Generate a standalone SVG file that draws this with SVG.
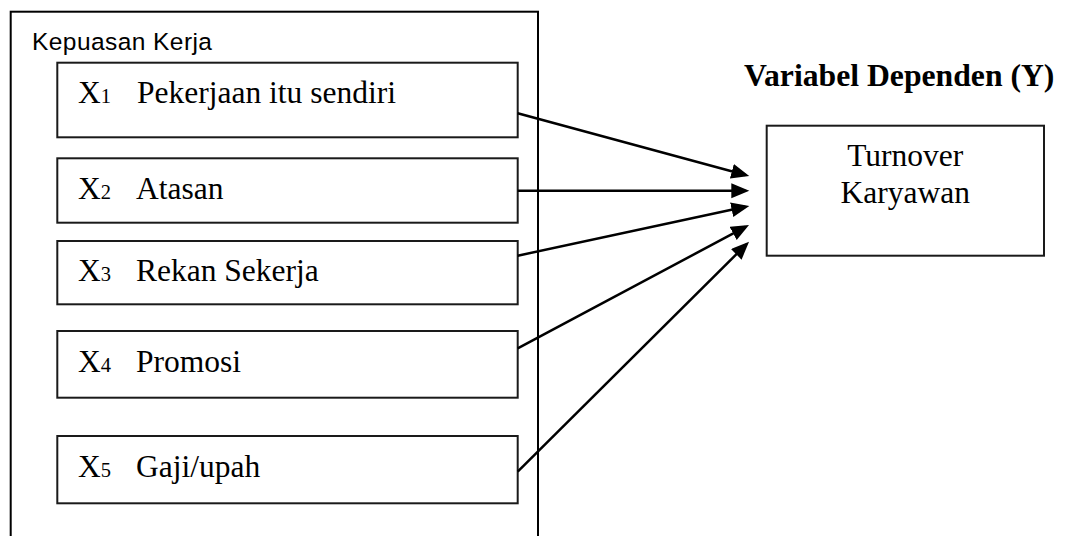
<svg xmlns="http://www.w3.org/2000/svg" width="1066" height="536" viewBox="0 0 1066 536">
  <style>
    .box { fill: #ffffff; stroke: #1a1a1a; stroke-width: 2; }
    .outer { fill: #ffffff; stroke: #000000; stroke-width: 2; }
    .lbl { font-family: "Liberation Serif", "Times New Roman", serif; font-size: 31.5px; fill: #000000; }
    .sub { font-size: 20.5px; }
    .title { font-family: "Liberation Serif", "Times New Roman", serif; font-size: 31.7px; font-weight: bold; fill: #000000; }
    .group { font-family: "Liberation Sans", Arial, sans-serif; font-size: 24.5px; fill: #000000; }
    .conn { fill: none; stroke: #000000; stroke-width: 2.5; marker-end: url(#arrow); }
  </style>
  <defs>
    <marker id="arrow" markerUnits="userSpaceOnUse" markerWidth="19" markerHeight="17" refX="14" refY="7.5" orient="auto">
      <path d="M0,0 L18,7.5 L0,15 z" fill="#000000"/>
    </marker>
  </defs>
  <rect width="1066" height="536" fill="#ffffff"/>

  <g id="kepuasan-kerja">
    <rect class="outer" x="10.7" y="11.7" width="527.3" height="540"/>
    <text class="group" x="32" y="49.5" textLength="180" lengthAdjust="spacing">Kepuasan Kerja</text>
  </g>

  <g id="x1">
    <rect class="box" x="57.3" y="62.7" width="460.4" height="74.6"/>
    <text class="lbl" x="78" y="103">X<tspan class="sub">1</tspan></text>
    <text class="lbl" x="137" y="103">Pekerjaan itu sendiri</text>
  </g>

  <g id="x2">
    <rect class="box" x="57.3" y="158.3" width="460.4" height="64.4"/>
    <text class="lbl" x="78" y="198.7">X<tspan class="sub">2</tspan></text>
    <text class="lbl" x="136" y="198.7">Atasan</text>
  </g>

  <g id="x3">
    <rect class="box" x="57.3" y="241" width="460.4" height="63.3"/>
    <text class="lbl" x="78" y="281">X<tspan class="sub">3</tspan></text>
    <text class="lbl" x="136" y="281">Rekan Sekerja</text>
  </g>

  <g id="x4">
    <rect class="box" x="57.3" y="331" width="460.4" height="66.7"/>
    <text class="lbl" x="78" y="372">X<tspan class="sub">4</tspan></text>
    <text class="lbl" x="136" y="372">Promosi</text>
  </g>

  <g id="x5">
    <rect class="box" x="57.3" y="436" width="460.4" height="67.3"/>
    <text class="lbl" x="78" y="476.7">X<tspan class="sub">5</tspan></text>
    <text class="lbl" x="136" y="476.7">Gaji/upah</text>
  </g>

  <g id="variabel-dependen">
    <text class="title" x="744" y="85.5">Variabel Dependen (Y)</text>
  </g>

  <g id="turnover">
    <rect class="box" x="766.7" y="125.7" width="277.3" height="130"/>
    <text class="lbl" x="905.3" y="165.5" text-anchor="middle">Turnover</text>
    <text class="lbl" x="905.3" y="203.2" text-anchor="middle">Karyawan</text>
  </g>

  <g id="connectors">
    <path class="conn" d="M517.7,113.3 L745.4,174.95"/>
    <path class="conn" d="M517.7,190.7 L745.3,190.7"/>
    <path class="conn" d="M517.7,255.7 L745.4,206.84"/>
    <path class="conn" d="M517.7,348.3 L745.5,226.9"/>
    <path class="conn" d="M517.7,471.7 L746.2,244.5"/>
  </g>
</svg>
